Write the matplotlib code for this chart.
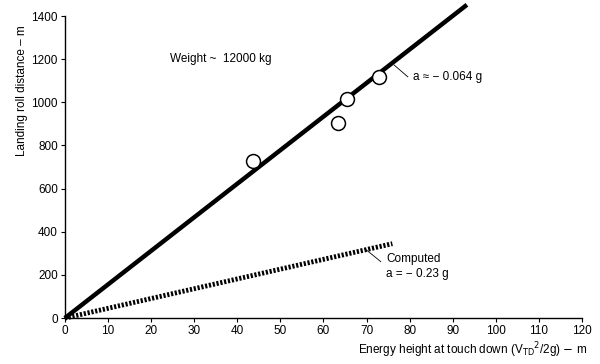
import numpy as np
import matplotlib.pyplot as plt

plt.rcParams['font.family'] = ['Liberation Sans', 'DejaVu Sans']

# measured points (energy height m, landing roll m)
meas_h = [43.6, 63.3, 65.4, 72.9]
meas_d = [728, 904, 1015, 1117]

# fitted line a ~ -0.064 g
fit_h = [0, 93.3]
fit_d = [0, 1452]

# computed line a = -0.23 g
comp_h = [0, 76]
comp_d = [0, 345]

fig = plt.figure(figsize=(6, 3.64), dpi=100)
ax = fig.add_axes([0.108, 0.126, 0.862, 0.830])

ax.plot(fit_h, fit_d, color='black', lw=3.2, solid_capstyle='butt', clip_on=False, zorder=2)
ax.plot(comp_h, comp_d, color='black', lw=3.5, linestyle=(0, (0.45, 0.35)), clip_on=False, zorder=2)
ax.plot(meas_h, meas_d, 'o', ms=10, mfc='white', mec='black', mew=1.1, zorder=3)

ax.set_xlim(0, 120)
ax.set_ylim(0, 1400)
ax.set_xticks(np.arange(0, 121, 10))
ax.set_yticks(np.arange(0, 1401, 200))
for s in ['top', 'right']:
    ax.spines[s].set_visible(False)
for s in ['left', 'bottom']:
    ax.spines[s].set_linewidth(1.0)
ax.tick_params(labelsize=8.5, length=3, width=0.8, pad=2)

fs = 8.5
ax.text(24.4, 1200, 'Weight ~  12000 kg', fontsize=fs, va='center')
ax.plot([76.4, 79.6], [1173, 1118], color='black', lw=0.6)
ax.text(80.8, 1117, 'a \u2248 \u2212 0.064 g', fontsize=fs, va='center')
ax.plot([69.6, 73.3], [322, 262], color='black', lw=0.6)
ax.text(74.6, 272, 'Computed', fontsize=fs, va='center')
ax.text(74.6, 203, 'a = \u2212 0.23 g', fontsize=fs, va='center')

fig.text(22 / 600, 1 - 91 / 364, 'Landing roll distance \u2013 m', fontsize=fs,
         rotation=90, ha='center', va='center')
fig.text(0.978, 0.028, r'Energy height at touch down (V$_{\rm TD}$$^{2}$/2g) $-$ m',
         fontsize=fs, ha='right', va='baseline')

fig.savefig('out.png', dpi=100)
